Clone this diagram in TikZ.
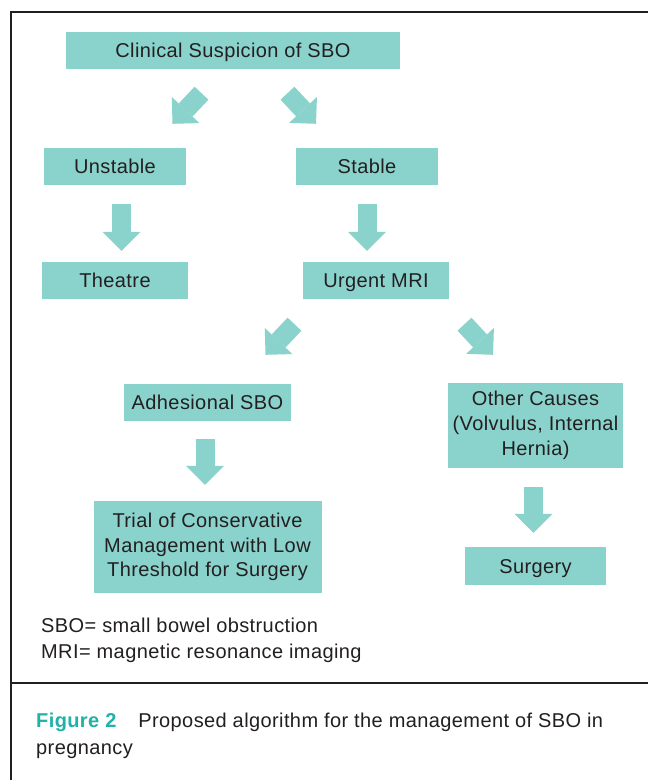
\documentclass[tikz,border=0pt]{standalone}
\usepackage{fontspec}
\setmainfont{Liberation Sans}[LetterSpace=2]
\usepackage{tikz}
\usetikzlibrary{positioning,arrows.meta}
\definecolor{boxteal}{RGB}{138,210,204}
\definecolor{figteal}{RGB}{32,178,166}
\definecolor{txtgray}{RGB}{35,31,32}
\tikzstyle{blk}=[fill=boxteal, text=txtgray, inner sep=0pt, align=center]
\tikzstyle{blk1}=[blk, minimum height=37pt, text height=15pt, text depth=1pt]
\tikzstyle{barrow}=[draw=boxteal, line width=19pt, -{Triangle[length=19pt,width=38pt,line width=0pt]}]

\begin{document}
\begin{tikzpicture}[x=1pt,y=1pt,node distance=114pt,font=\fontsize{20}{24.7}\selectfont]
\path[use as bounding box, fill=white] (0,0) rectangle (648,-780);
% frame
\draw[line width=2.2pt, txtgray] (648,-12) -- (11,-12) -- (11,-780);
\draw[line width=2pt, txtgray] (11,-683) -- (648,-683);

\node[blk1, minimum width=334pt] at (233,-50.5) (susp) {Clinical Suspicion of SBO};
\node[blk1, minimum width=142pt] at (115,-166.5) (unst) {Unstable};
\node[blk1, minimum width=142pt, right of = unst, node distance = 252pt] (stab) {Stable};
\draw[barrow] ([xshift=-31.5pt,yshift=-24pt]susp.south) -- ([xshift=57.5pt,yshift=24pt]unst.north);
\draw[barrow] ([xshift=54.5pt,yshift=-24pt]susp.south) -- ([xshift=-51pt,yshift=24pt]stab.north);

\node[blk1, minimum width=146pt, below of = unst] (theat) {Theatre};
\node[blk1, minimum width=146pt, right of = theat, node distance = 261pt] (mri) {Urgent MRI};
\draw[barrow] ([xshift=6.5pt,yshift=-19pt]unst.south) -- ([xshift=6.5pt,yshift=11pt]theat.north);
\draw[barrow] ([yshift=-19pt]stab.south) -- ([xshift=-9pt,yshift=11pt]mri.north);

\node[blk1, minimum width=167pt] at (207.5,-402.5) (adh) {Adhesional SBO};
\node[blk, minimum width=175pt, minimum height=85pt] at (535.5,-425.5) (other) {Other Causes\\(Volvulus, Internal\\Hernia)};
\draw[barrow] ([xshift=-81.5pt,yshift=-25pt]mri.south) -- ([xshift=58pt,yshift=29pt]adh.north);
\draw[barrow] ([xshift=88.5pt,yshift=-25pt]mri.south) -- ([xshift=-42.5pt,yshift=28pt]other.north);

\node[blk, minimum width=228pt, minimum height=92pt, below of = adh, node distance = 144.5pt] (trial) {Trial of Conservative\\Management with Low\\Threshold for Surgery};
\node[blk1, minimum width=141pt, minimum height=38pt, below of = other, node distance = 140.5pt] (surg) {Surgery};
\draw[barrow] ([xshift=-2.5pt,yshift=-18pt]adh.south) -- ([xshift=-2.5pt,yshift=16pt]trial.north);
\draw[barrow] ([xshift=-2pt,yshift=-19pt]other.south) -- ([xshift=-2pt,yshift=14pt]surg.north);

% abbreviations and caption
\node[anchor=north west, align=left, inner sep=0pt, text=txtgray, font=\fontsize{20}{26}\selectfont] at (41,-617.4) (legend) {SBO= small bowel obstruction\\MRI= magnetic resonance imaging};
\node[anchor=north west, align=left, inner sep=0pt, text=txtgray, font=\fontsize{20}{26.5}\selectfont] at (36,-713.1) (caption) {{\bfseries\color{figteal}Figure 2}\hspace{22pt}Proposed algorithm for the management of SBO in\\pregnancy};
\end{tikzpicture}
\end{document}
